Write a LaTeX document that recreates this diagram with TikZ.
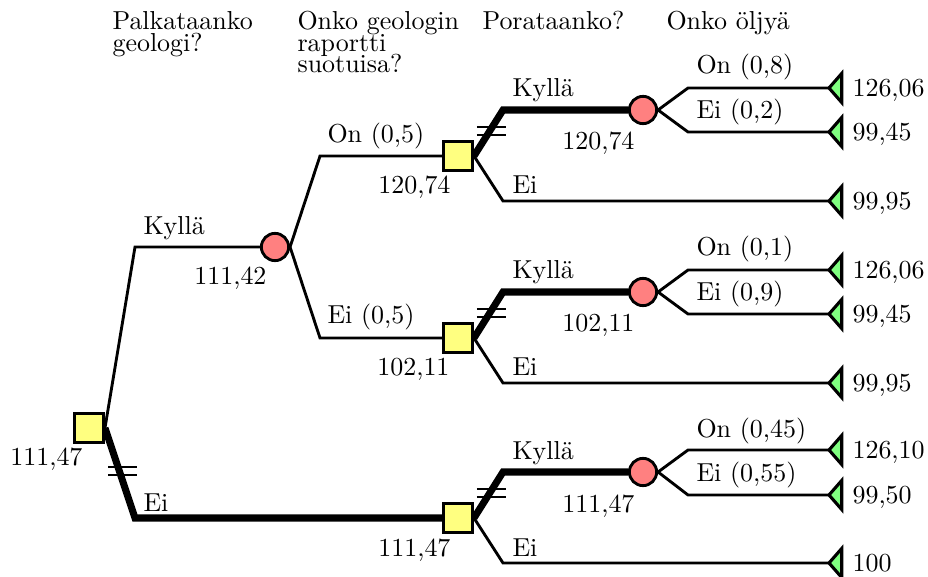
\documentclass[tikz,border=0pt]{standalone}
\usetikzlibrary{shapes.geometric,backgrounds}
\definecolor{decfill}{RGB}{255,255,128}
\definecolor{chancefill}{RGB}{255,128,128}
\definecolor{endfill}{RGB}{128,255,128}
\begin{document}
\begin{tikzpicture}[x=0.385pt,y=-0.385pt,
  decision/.style={rectangle,draw,fill=decfill,line width=1.1pt,minimum size=11.2pt,inner sep=0pt},
  chance/.style={circle,draw,fill=chancefill,line width=1.1pt,minimum size=10.5pt,inner sep=0pt},
  payoff/.style={draw,fill=endfill,line width=1.2pt,line join=miter},
  branch/.style={line width=1.1pt},
  chosen/.style={line width=2.7pt},
  strike/.style={line width=0.75pt},
  lbl/.style={anchor=base west,inner sep=0pt},
  val/.style={anchor=base east,inner sep=0pt},
  head/.style={anchor=north west,inner sep=0pt,align=left},
]
\useasboundingbox (0,0) rectangle (928,577);

% column headings
\node[head] (h1) at (112,11) {Palkataanko\\[-3.7pt]geologi?};
\node[head] (h2) at (297,11) {Onko geologin\\[-3.7pt]raportti\\[-3.7pt]suotuisa?};
\node[head] (h3) at (482,11) {Porataanko?};
\node[head] (h4) at (666,11) {Onko öljyä};

% decision and chance nodes
\node[decision] (r)  at (89,428) {};
\node[chance]   (c0) at (275,247) {};
\node[decision] (d1) at (458,156) {};
\node[decision] (d2) at (458,338) {};
\node[decision] (d3) at (458,518) {};
\node[chance]   (c1) at (643,110) {};
\node[chance]   (c2) at (643,292) {};
\node[chance]   (c3) at (643,472) {};

% end nodes: tips of the payoff triangles
\coordinate (t1a) at (829,88);
\coordinate (t1b) at (829,132);
\coordinate (t1c) at (829,201);
\coordinate (t2a) at (829,270);
\coordinate (t2b) at (829,314);
\coordinate (t2c) at (829,383);
\coordinate (t3a) at (829,450);
\coordinate (t3b) at (829,495);
\coordinate (t3c) at (829,563);
\foreach \tip in {t1a,t1b,t1c,t2a,t2b,t2c,t3a,t3b,t3c}
  \draw[payoff] (\tip) -- ++(4.9pt,5.6pt) -- ++(0pt,-11.2pt) -- cycle;

% payoffs
\node[lbl] (p1a) at (852,96.5) {126,06};
\node[lbl] (p1b) at (852,140.5) {99,45};
\node[lbl] (p1c) at (852,209.5) {99,95};
\node[lbl] (p2a) at (852,278.5) {126,06};
\node[lbl] (p2b) at (852,322.5) {99,45};
\node[lbl] (p2c) at (852,391.5) {99,95};
\node[lbl] (p3a) at (852,458.5) {126,10};
\node[lbl] (p3b) at (852,503.5) {99,50};
\node[lbl] (p3c) at (852,571.5) {100};

% expected values
\node[val] (vr)  at (83,466) {111,47};
\node[val] (vc0) at (267,285) {111,42};
\node[val] (vd1) at (451,194) {120,74};
\node[val] (vd2) at (450,376) {102,11};
\node[val] (vd3) at (451,556) {111,47};
\node[val] (vc1) at (635,150) {120,74};
\node[val] (vc2) at (635,332) {102,11};
\node[val] (vc3) at (635,512) {111,47};

% branch labels
\node[lbl] (lr1) at (143,235) {Kyllä};
\node[lbl] (lr2) at (143,511) {Ei};
\node[lbl] (lc01) at (327,143) {On (0,5)};
\node[lbl] (lc02) at (327,324) {Ei (0,5)};
\node[lbl] (ld1a) at (512,97) {Kyllä};
\node[lbl] (ld1b) at (512,194) {Ei};
\node[lbl] (ld2a) at (512,279) {Kyllä};
\node[lbl] (ld2b) at (512,376) {Ei};
\node[lbl] (ld3a) at (512,459) {Kyllä};
\node[lbl] (ld3b) at (512,556) {Ei};
\node[lbl] (lc1a) at (696,74) {On (0,8)};
\node[lbl] (lc1b) at (696,119) {Ei (0,2)};
\node[lbl] (lc2a) at (696,256) {On (0,1)};
\node[lbl] (lc2b) at (696,301) {Ei (0,9)};
\node[lbl] (lc3a) at (696,437) {On (0,45)};
\node[lbl] (lc3b) at (696,482) {Ei (0,55)};

\begin{pgfonlayer}{background}
  % first decision
  \draw[branch] (r.east) -- (135,247) -- (c0.west);
  \draw[chosen] (r.east) -- coordinate[pos=0.5] (m0) (135,518) -- (d3.west);
  % geologist's report
  \draw[branch] (c0.east) -- (320,156) -- (d1.west);
  \draw[branch] (c0.east) -- (320,338) -- (d2.west);
  % drilling decisions
  \draw[chosen] (d1.east) -- coordinate[pos=0.5] (m1) (503,110) -- (c1.west);
  \draw[branch] (d1.east) -- (503,201) -- (t1c);
  \draw[chosen] (d2.east) -- coordinate[pos=0.5] (m2) (503,292) -- (c2.west);
  \draw[branch] (d2.east) -- (503,383) -- (t2c);
  \draw[chosen] (d3.east) -- coordinate[pos=0.5] (m3) (503,472) -- (c3.west);
  \draw[branch] (d3.east) -- (503,563) -- (t3c);
  % oil outcomes
  \draw[branch] (c1.east) -- (688,88) -- (t1a);
  \draw[branch] (c1.east) -- (688,132) -- (t1b);
  \draw[branch] (c2.east) -- (688,270) -- (t2a);
  \draw[branch] (c2.east) -- (688,314) -- (t2b);
  \draw[branch] (c3.east) -- (688,450) -- (t3a);
  \draw[branch] (c3.east) -- (688,495) -- (t3b);
\end{pgfonlayer}

% rejected branches are struck through
\foreach \m in {m0,m1,m2,m3}
  \draw[strike] ([shift={(-11.5,-6)}]\m) -- ++(29,0)
                ([shift={(-11.5,2)}]\m) -- ++(29,0);
\end{tikzpicture}
\end{document}
